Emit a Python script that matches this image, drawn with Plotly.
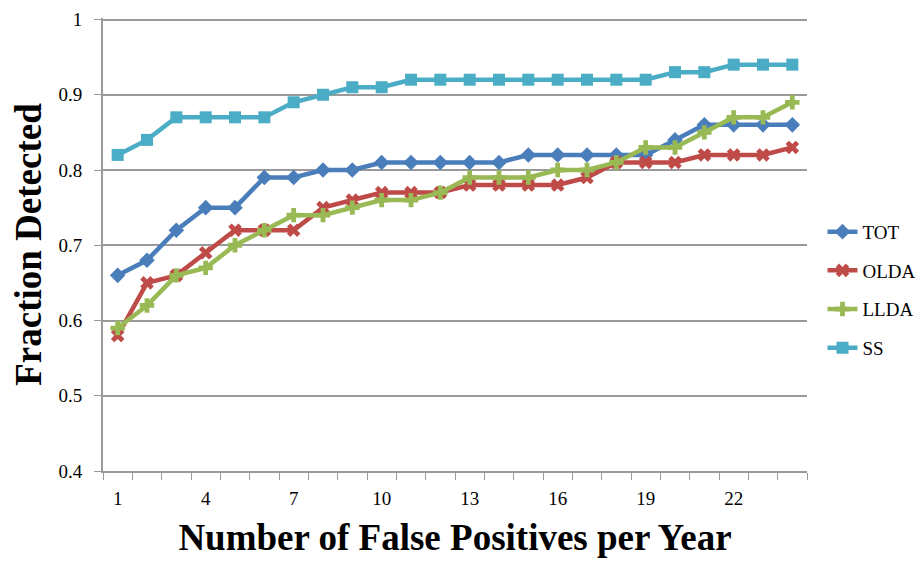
import plotly.graph_objects as go

x_vals = list(range(1, 25))
tot = [0.66, 0.68, 0.72, 0.75, 0.75, 0.79, 0.79, 0.80, 0.80, 0.81, 0.81, 0.81,
       0.81, 0.81, 0.82, 0.82, 0.82, 0.82, 0.82, 0.84, 0.86, 0.86, 0.86, 0.86]
olda = [0.58, 0.65, 0.66, 0.69, 0.72, 0.72, 0.72, 0.75, 0.76, 0.77, 0.77, 0.77,
        0.78, 0.78, 0.78, 0.78, 0.79, 0.81, 0.81, 0.81, 0.82, 0.82, 0.82, 0.83]
llda = [0.59, 0.62, 0.66, 0.67, 0.70, 0.72, 0.74, 0.74, 0.75, 0.76, 0.76, 0.77,
        0.79, 0.79, 0.79, 0.80, 0.80, 0.81, 0.83, 0.83, 0.85, 0.87, 0.87, 0.89]
ss = [0.82, 0.84, 0.87, 0.87, 0.87, 0.87, 0.89, 0.90, 0.91, 0.91, 0.92, 0.92,
      0.92, 0.92, 0.92, 0.92, 0.92, 0.92, 0.92, 0.93, 0.93, 0.94, 0.94, 0.94]

series_names = ["TOT", "OLDA", "LLDA", "SS"]
series_vals = [tot, olda, llda, ss]
colors = ["#4A7EBB", "#BE4B48", "#98B954", "#4BACC6"]
symbols = ["diamond", "x", "cross", "square"]

x_tick_vals = [1, 4, 7, 10, 13, 16, 19, 22]
y_tick_vals = [0.4, 0.5, 0.6, 0.7, 0.8, 0.9, 1.0]
y_tick_text = ["0.4", "0.5", "0.6", "0.7", "0.8", "0.9", "1"]

fig = go.Figure()
for name, vals, c, s in zip(series_names, series_vals, colors, symbols):
    fig.add_trace(go.Scatter(
        x=x_vals, y=vals, name=name, legendgroup=name,
        mode="lines+markers",
        line=dict(color=c, width=4.5),
        marker=dict(symbol=s, size=12, color=c, line=dict(width=0)),
    ))

ff = "Liberation Serif"
fig.update_layout(
    width=924, height=561,
    margin=dict(l=95, r=125, t=10, b=98, autoexpand=False),
    paper_bgcolor="white", plot_bgcolor="white",
    font=dict(family=ff, size=19, color="black"),
    showlegend=True,
    legend=dict(x=1.022, xanchor="left", y=0.4, yanchor="middle",
                font=dict(size=19, family=ff, color="black"),
                tracegroupgap=11, itemwidth=30,
                bgcolor="rgba(0,0,0,0)"),
    xaxis=dict(
        range=[0.5, 24.5], tickmode="array", tickvals=x_tick_vals,
        ticks="", showgrid=False, zeroline=False, automargin=False,
        showline=True, linecolor="#9A9A9A", linewidth=2,
        ticklabelstandoff=9,
        tickfont=dict(size=19, family=ff),
        minor=dict(tickmode="linear", tick0=0.5, dtick=1, ticks="outside",
                   ticklen=7, tickcolor="#9A9A9A", tickwidth=1, showgrid=False),
        title=dict(text="<b>Number of False Positives per Year</b>",
                   font=dict(size=37, family=ff), standoff=16),
    ),
    yaxis=dict(
        range=[0.4, 1.002], tickmode="array", tickvals=y_tick_vals,
        ticktext=y_tick_text, automargin=False,
        ticks="outside", ticklen=7, tickcolor="#9A9A9A",
        ticklabelstandoff=8, ticklabeloverflow="allow",
        tickfont=dict(size=19, family=ff),
        showgrid=True, gridcolor="#9A9A9A", gridwidth=1.5,
        zeroline=False, showline=True, linecolor="#9A9A9A", linewidth=2,
        title=dict(text="<b>Fraction Detected</b>",
                   font=dict(size=37, family=ff), standoff=10),
    ),
)

fig.write_html("out.html")
